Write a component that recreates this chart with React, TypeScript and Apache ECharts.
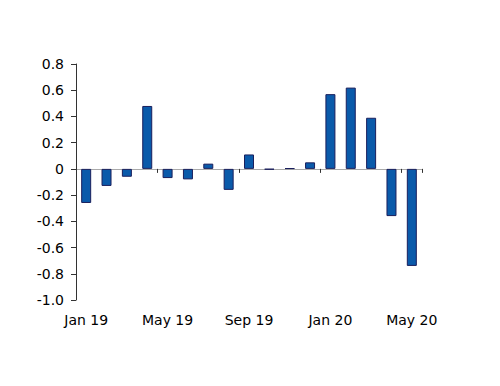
import React, { useEffect, useRef } from "react";
import * as echarts from "echarts";

const categories = [
  "Jan 19", "Feb 19", "Mar 19", "Apr 19", "May 19", "Jun 19", "Jul 19", "Aug 19",
  "Sep 19", "Oct 19", "Nov 19", "Dec 19", "Jan 20", "Feb 20", "Mar 20", "Apr 20", "May 20",
];
const values = [
  -0.26, -0.13, -0.06, 0.48, -0.07, -0.08, 0.04, -0.16,
  0.11, -0.005, 0.005, 0.05, 0.57, 0.62, 0.39, -0.36, -0.74,
];

export default function App() {
  const ref = useRef<HTMLDivElement>(null);
  useEffect(() => {
    if (!ref.current) return;
    const chart = echarts.init(ref.current, undefined, { renderer: "svg" });
    const font = "DejaVu Sans, Verdana, sans-serif";
    chart.setOption({
      animation: false,
      grid: { left: 76, right: 78, top: 64, bottom: 86 },
      xAxis: [
        {
          type: "category",
          data: categories,
          boundaryGap: true,
          axisLine: { onZero: true, lineStyle: { color: "#aaaaaa", width: 1 } },
          axisTick: { show: true, interval: 3, length: 4, lineStyle: { color: "#333333" } },
          axisLabel: { show: false },
          splitLine: { show: false },
        },
        {
          type: "category",
          data: categories,
          position: "bottom",
          boundaryGap: true,
          axisLine: { show: false, onZero: false },
          axisTick: { show: false },
          axisLabel: {
            show: true,
            interval: 3,
            margin: 13,
            color: "#000000",
            fontSize: 14,
            fontFamily: font,
          },
          splitLine: { show: false },
        },
      ],
      yAxis: {
        type: "value",
        min: -1.0,
        max: 0.8,
        interval: 0.2,
        axisLine: { show: true, lineStyle: { color: "#333333", width: 1 } },
        axisTick: { show: true, length: 5, lineStyle: { color: "#333333" } },
        axisLabel: {
          margin: 12,
          color: "#000000",
          fontSize: 14,
          fontFamily: font,
          formatter: (v: number) => {
            const r = Math.round(v * 10) / 10;
            if (r === 0) return "0";
            if (r === -1) return "-1.0";
            return r.toFixed(1);
          },
        },
        splitLine: { show: false },
      },
      series: [
        {
          type: "bar",
          data: values,
          xAxisIndex: 0,
          barWidth: 10,
          itemStyle: { color: "#0a5aaa", borderColor: "#1a1f5c", borderWidth: 1 },
        },
      ],
    });
    return () => chart.dispose();
  }, []);
  return <div ref={ref} style={{ width: 500, height: 386, margin: -8 }} />;
}
